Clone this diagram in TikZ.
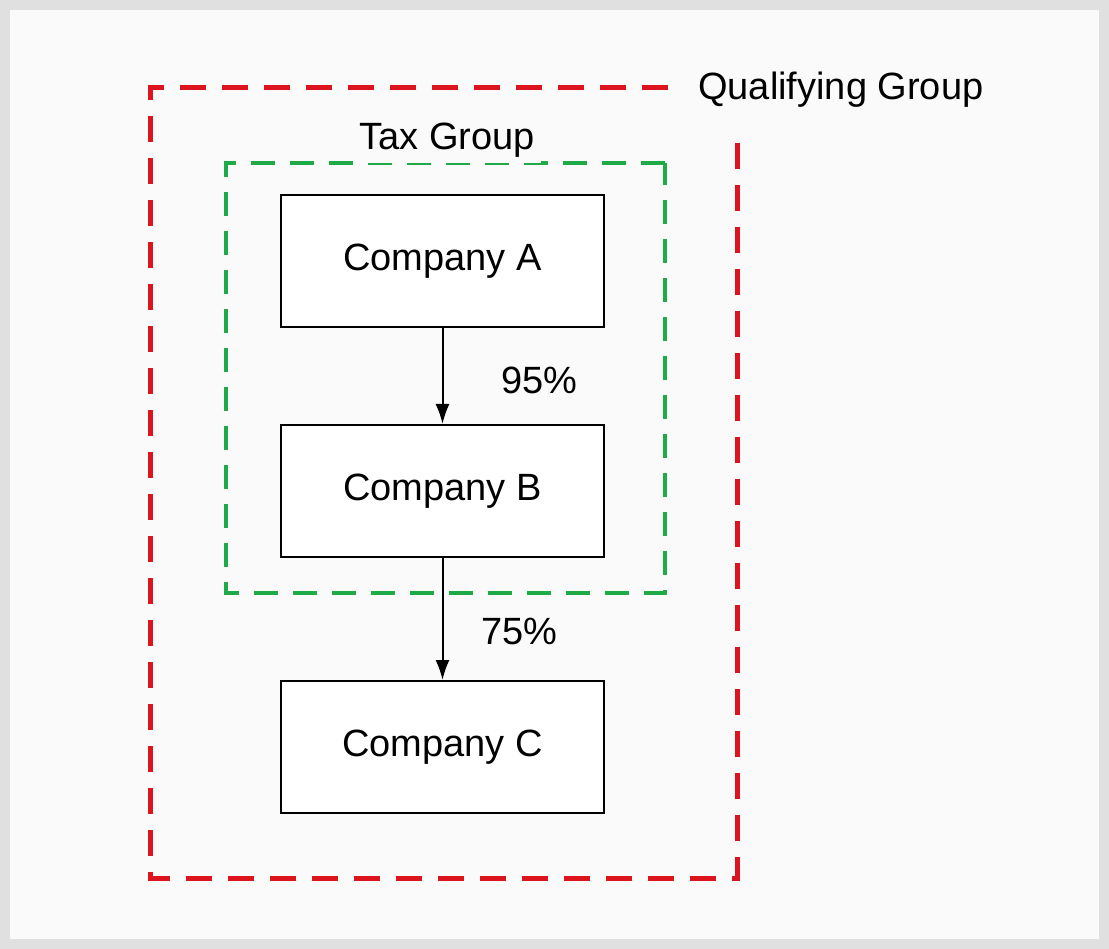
\documentclass[tikz,border=0pt]{standalone}
\usepackage{fontspec}
\setmainfont{Liberation Sans}
\definecolor{qual red}{RGB}{220,20,30}
\definecolor{tax green}{RGB}{30,170,70}
\tikzstyle{company} = [draw, line width=2pt, minimum width=323pt, minimum height=132pt, inner sep=0pt, font=\fontsize{38}{44}\selectfont]
\tikzstyle{label} = [inner sep=0pt, font=\fontsize{38}{44}\selectfont]
\tikzstyle{own} = [draw, line width=2pt, -{Latex[length=20pt, width=14pt]}]
\tikzstyle{qual line} = [draw=qual red, line width=5pt, dash pattern=on 26pt off 16pt]
\tikzstyle{tax line} = [draw=tax green, line width=4.5pt, dash pattern=on 24pt off 15pt]
\usetikzlibrary{arrows.meta}
\def\companies{{(442.5,261)/A}, {(442.5,491)/B}, {(442.5,747)/C}}
\begin{document}
\begin{tikzpicture}[x=1pt, y=-1pt]

  % The frame
  \fill[black!12] (0,0) rectangle (1109,949);
  \fill[white!98!black] (10,10) rectangle (1099,939);
  \useasboundingbox (0,0) rectangle (1109,949);

  % The companies
  \foreach \pos/\name in \companies
    \node[company, fill=white] (\name) at \pos {Company \name};

  % The groups
  \coordinate (qual-start) at (668,88);
  \coordinate (qual-end) at (737,140);
  \path[qual line] (qual-start) -- (150,88) -- (150,878) -- (737,878) -- (qual-end);
  \node[label, anchor=west] (qual) at (698,90) {Qualifying Group};
  \coordinate (tax-corner) at (665,163);
  \path[tax line] (tax-corner) -- (226,163) -- (226,593) -- (665,593) -- cycle;
  \node[label, fill=white!98!black, inner sep=6pt] (tax) at (447,140) {Tax Group};

  % The holdings
  \path[own] (A) -- (B) node[label, pos=0.55, right=58pt] (ab) {95\%};
  \path[own] (B) -- (C) node[label, pos=0.6, right=38pt] (bc) {75\%};

\end{tikzpicture}
\end{document}
